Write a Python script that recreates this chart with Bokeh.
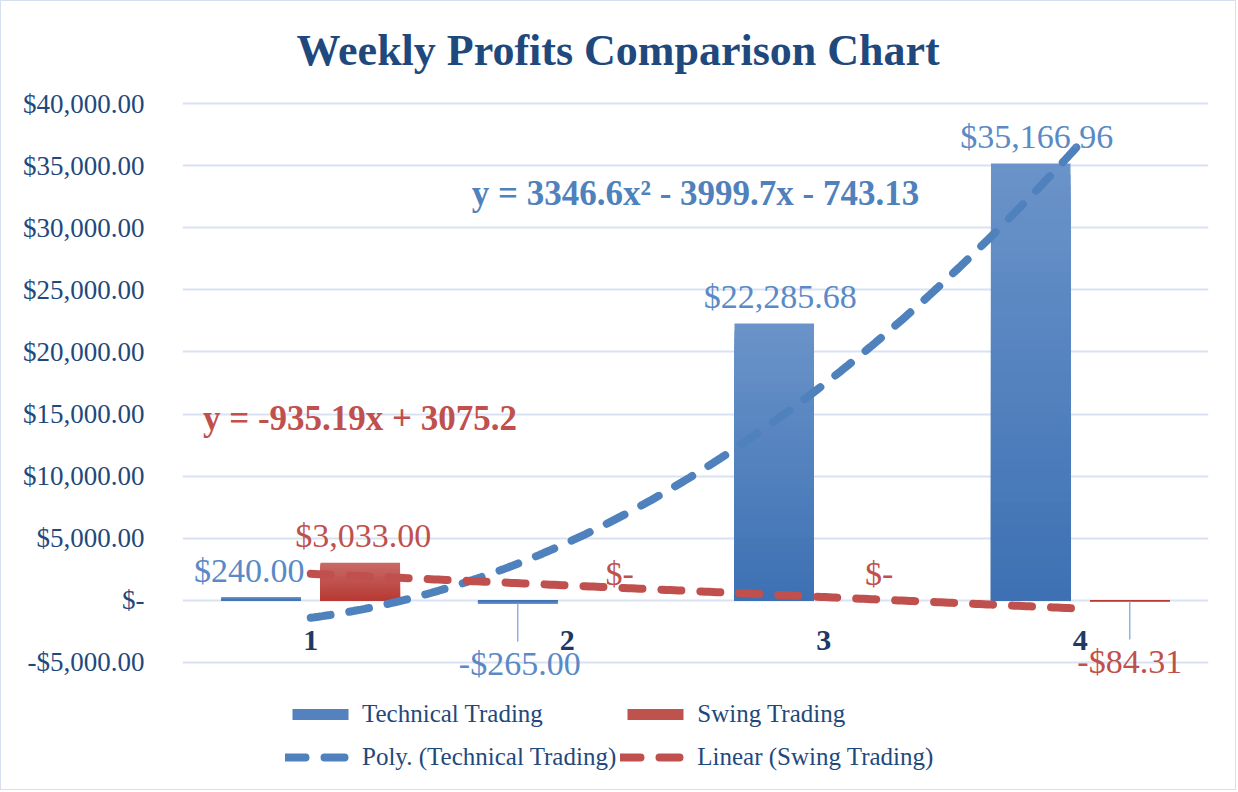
import numpy as np
from bokeh.plotting import figure
from bokeh.models import Range1d, FixedTicker, Legend, LegendItem, Label, ColumnDataSource
from bokeh.core.properties import value
from bokeh.embed import file_html
from bokeh.resources import INLINE

# ---------------- data ----------------
weeks = [1, 2, 3, 4]
week_labels = ["1", "2", "3", "4"]
technical = [240.00, -265.00, 22285.68, 35166.96]
swing = [3033.00, 0.00, 0.00, -84.31]
y_ticks = list(range(-5000, 40001, 5000))

TITLE = "Weekly Profits Comparison Chart"
SERIES = ["Technical Trading", "Swing Trading"]

# ---------------- style ----------------
FONT = "Liberation Serif"
NAVY = "#1F497D"
CAT_NAVY = "#1F3864"
BLUE = "#4F81BD"
BLUE_LBL = "#5A8AC6"
RED = "#C0504D"
GRID = "#D9E2F3"
TECH_TOP, TECH_BOT = (106, 147, 201), (60, 112, 179)
SWING_TOP, SWING_BOT = (200, 106, 102), (183, 57, 52)
OFFSET = 0.193
BAR_W = 0.31

UNITS_PER_PX = 5000 / 62.1          # vertical scale of the value axis
AXIS_MIN, AXIS_MAX = min(y_ticks), max(y_ticks)
TOP_PAD_PX, BOTTOM_PAD_PX = 10, 129  # frame space above top tick / below bottom tick
Y1 = AXIS_MAX + TOP_PAD_PX * UNITS_PER_PX
Y0 = AXIS_MIN - BOTTOM_PAD_PX * UNITS_PER_PX


def money(v):
    if abs(v) < 1e-9:
        return "$-"
    s = f"${abs(v):,.2f}"
    return "-" + s if v < 0 else s


def hexc(c):
    return "#%02X%02X%02X" % tuple(int(round(x)) for x in c)


def mix(top, bot, f):
    return hexc([b + (t - b) * f for t, b in zip(top, bot)])


def fmt_num(v):
    return f"{abs(v):.5g}"


def signed(v):
    return (" - " if v < 0 else " + ") + fmt_num(v)


p = figure(width=1236, height=790,
           x_range=Range1d(0.5, 4.5), y_range=Range1d(Y0, Y1),
           output_backend="svg", toolbar_location=None,
           min_border_left=181, min_border_right=29,
           min_border_top=92, min_border_bottom=0,
           styles={"border": "1px solid #D6DFEE"})

p.outline_line_color = None
p.background_fill_color = "white"
p.border_fill_color = "white"
p.xaxis.visible = False
p.xgrid.visible = False
p.ygrid.grid_line_color = GRID
p.ygrid.grid_line_width = 2

yax = p.yaxis[0]
yax.ticker = FixedTicker(ticks=y_ticks)
yax.major_label_overrides = {t: money(t) for t in y_ticks}
yax.axis_line_color = None
yax.major_tick_line_color = None
yax.minor_tick_line_color = None
yax.major_label_standoff = 32
yax.major_label_text_font = FONT
yax.major_label_text_font_size = "27px"
yax.major_label_text_color = NAVY

p.title.text = TITLE
p.title.text_font = FONT
p.title.text_font_style = "bold"
p.title.text_font_size = "44px"
p.title.text_color = NAVY
p.title.align = "left"
p.title.offset = 114
p.title.standoff = 38

# ---------------- bars with vertical gradient ----------------
tech_x = [w - OFFSET for w in weeks]
swing_x = [w + OFFSET for w in weeks]
N = 40
legend_bars = {}
for k in range(N):
    f = 1 - k / N
    rt = p.vbar(x=tech_x, width=BAR_W, bottom=0, top=[v * f for v in technical],
                fill_color=mix(TECH_TOP, TECH_BOT, f), line_color=None)
    rs = p.vbar(x=swing_x, width=BAR_W, bottom=0, top=[v * f for v in swing],
                fill_color=mix(SWING_TOP, SWING_BOT, f), line_color=None)
    if k == N // 2:
        legend_bars["t"], legend_bars["s"] = rt, rs

# ---------------- trendlines ----------------
poly = np.polyfit(weeks, technical, 2)
lin = np.polyfit(weeks, swing, 1)
xs = np.linspace(min(weeks), max(weeks), 200)
lt = p.line(xs, np.polyval(poly, xs), line_color=BLUE, line_width=8,
            line_dash="20 19", line_cap="round")
ls = p.line(xs, np.polyval(lin, xs), line_color=RED, line_width=8,
            line_dash="20 19", line_cap="round")

# ---------------- leader lines for negative labels ----------------
LEADER = 38 * UNITS_PER_PX
neg = [(x, v) for x, v in zip(tech_x, technical) if v < 0] + \
      [(x, v) for x, v in zip(swing_x, swing) if v < 0]
p.segment(x0=[n[0] for n in neg], y0=[n[1] for n in neg],
          x1=[n[0] for n in neg], y1=[n[1] - LEADER for n in neg],
          line_color="#8EB4E3", line_width=1.5)

# ---------------- data labels ----------------
def add_labels(xpos, vals, color, xo):
    src = ColumnDataSource(dict(
        x=xpos, y=vals, t=[money(v) for v in vals], xo=xo,
        yo=[60 if v < 0 else -27 for v in vals]))
    p.text(x="x", y="y", text="t", x_offset="xo", y_offset="yo", source=src,
           text_align="center", text_baseline="middle",
           text_font=value(FONT), text_font_size="34px", text_color=color)

# label nudges (px) as placed in the original to avoid overlapping neighbours
add_labels(tech_x, technical, BLUE_LBL, [-12, 2, 6, 6])
add_labels(swing_x, swing, RED, [3, 3, 6, 0])

# category labels (axis crosses at zero)
p.text(x=weeks, y=[0] * len(weeks), text=week_labels, y_offset=40,
       text_align="center", text_baseline="middle",
       text_font=value(FONT), text_font_style="bold",
       text_font_size="30px", text_color=CAT_NAVY)

# ---------------- trendline equations ----------------
eq_poly = "y = " + fmt_num(poly[0]) + "x\u00b2" + signed(poly[1]) + "x" + signed(poly[2])
eq_lin = "y = " + ("-" if lin[0] < 0 else "") + fmt_num(lin[0]) + "x" + signed(lin[1])
p.add_layout(Label(x=2.5, y=32770, text=eq_poly, text_align="center",
                   text_baseline="middle", text_font=FONT, text_font_style="bold",
                   text_font_size="35px", text_color=BLUE))
p.add_layout(Label(x=0.58, y=14650, text=eq_lin, text_align="left",
                   text_baseline="middle", text_font=FONT, text_font_style="bold",
                   text_font_size="35px", text_color=RED))

# ---------------- legend ----------------
legend = Legend(items=[
    LegendItem(label=SERIES[0], renderers=[legend_bars["t"]]),
    LegendItem(label=SERIES[1], renderers=[legend_bars["s"]]),
    LegendItem(label=f"Poly. ({SERIES[0]})", renderers=[lt]),
    LegendItem(label=f"Linear ({SERIES[1]})", renderers=[ls]),
], ncols=2, orientation="horizontal", location=(103, 15),
    glyph_width=70, glyph_height=14, label_height=39, label_standoff=7,
    spacing=4, padding=0, margin=0, border_line_color=None,
    background_fill_alpha=0, label_text_font=FONT,
    label_text_font_size="25px", label_text_color=NAVY)
p.add_layout(legend, "center")

open("out.html", "w").write(file_html(p, INLINE))
